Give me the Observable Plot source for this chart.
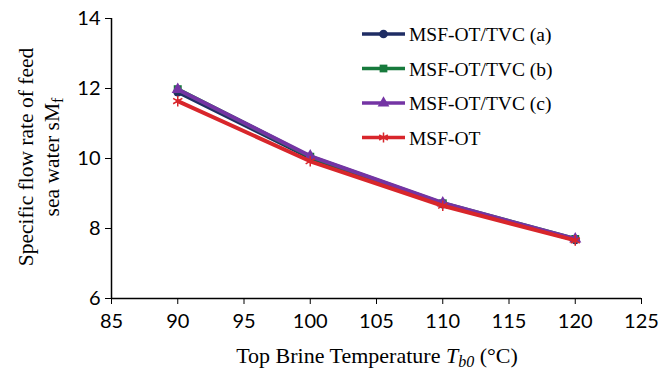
<!DOCTYPE html>
<html><head><meta charset="utf-8">
<script src="https://cdn.jsdelivr.net/npm/d3@7"></script>
<script src="https://cdn.jsdelivr.net/npm/@observablehq/plot@0.6"></script>
<style>body{margin:0;background:#fff}</style>
</head><body><div id="chart"></div>
<script>
const temps = [90, 100, 110, 120];
const seriesNames = ["MSF-OT/TVC (a)", "MSF-OT/TVC (b)", "MSF-OT/TVC (c)", "MSF-OT"];
const valsA = [11.90, 10.02, 8.70, 7.68];
const valsB = [11.98, 10.05, 8.72, 7.70];
const valsC = [11.97, 10.07, 8.73, 7.70];
const valsOT = [11.64, 9.92, 8.65, 7.66];
const colors = ["#1f2d64", "#177a3c", "#7434a4", "#d8262b"];
const symbols = ["circle", "square", "triangle", "asterisk"];
const xTicks = [85, 90, 95, 100, 105, 110, 115, 120, 125];
const yTicks = [6, 8, 10, 12, 14];

const allVals = [valsA, valsB, valsC, valsOT];
const data = [];
seriesNames.forEach((s, i) => temps.forEach((t, j) => data.push({series: s, t, v: allVals[i][j]})));

const W = 665, H = 374;
const ml = 111, mr = 24, mt = 18, mb = 76;
const marks = [];
seriesNames.forEach((s, i) => {
  const d = data.filter(r => r.series === s);
  marks.push(Plot.line(d, {x: "t", y: "v", stroke: colors[i], strokeWidth: 4}));
  marks.push(Plot.dot(d, {x: "t", y: "v", symbol: () => symbols[i], fill: colors[i], stroke: colors[i], strokeWidth: i === 3 ? 1.5 : 0, r: i === 3 ? 5 : 4.5}));
});

const chart = Plot.plot({
  width: W, height: H,
  marginLeft: ml, marginRight: mr, marginTop: mt, marginBottom: mb,
  style: {fontFamily: "Lato, sans-serif", fontSize: "20px", color: "#000", background: "#fff"},
  symbol: {type: "identity"},
  x: {domain: [85, 125], ticks: xTicks, label: null},
  y: {domain: [6, 14], ticks: yTicks, label: null},
  marks: [
    Plot.axisX({ticks: xTicks, tickSize: 6, tickPadding: 9, label: null, fontSize: 20}),
    Plot.axisY({ticks: yTicks, tickSize: 6, tickPadding: 5, label: null, fontSize: 20}),
    Plot.ruleX([85], {stroke: "#000", strokeWidth: 1.5}),
    Plot.ruleY([6], {stroke: "#000", strokeWidth: 1.5}),
    ...marks
  ]
});
document.getElementById("chart").appendChild(chart);

const svg = d3.select(chart);
const serif = "Liberation Serif";
function serifText(sel, size) {
  return sel.attr("font-family", serif).style("font-family", serif).attr("font-size", size).style("font-size", size + "px").attr("fill", "#000");
}
// X title
const xt = serifText(svg.append("text"), 22).attr("x", 377).attr("y", 363).attr("text-anchor", "middle");
xt.append("tspan").text("Top Brine Temperature ");
xt.append("tspan").style("font-style", "italic").text("T");
xt.append("tspan").style("font-style", "italic").style("font-size", "16px").attr("dy", 4).text("b0");
xt.append("tspan").attr("dy", -4).text(" (°C)");
// Y title
serifText(svg.append("text"), 21.5).attr("transform", "translate(33,157) rotate(-90)").attr("text-anchor", "middle")
  .text("Specific flow rate of feed");
const yt2 = serifText(svg.append("text"), 21.5).attr("transform", "translate(59,157) rotate(-90)").attr("text-anchor", "middle");
yt2.append("tspan").text("sea water sM");
yt2.append("tspan").style("font-size", "16px").attr("dy", 4).text("f");
// Legend
const symGen = {circle: d3.symbolCircle, square: d3.symbolSquare, triangle: d3.symbolTriangle, asterisk: d3.symbolAsterisk};
seriesNames.forEach((s, i) => {
  const y = 34 + i * 34.5;
  svg.append("line").attr("x1", 362).attr("x2", 405).attr("y1", y).attr("y2", y).attr("stroke", colors[i]).attr("stroke-width", 3.5);
  svg.append("path").attr("transform", `translate(383.5,${y})`).attr("d", d3.symbol(symGen[symbols[i]], i === 3 ? 70 : 60)())
    .attr("fill", colors[i]).attr("stroke", colors[i]).attr("stroke-width", i === 3 ? 1.5 : 0);
  serifText(svg.append("text"), 19.5).attr("x", 409).attr("y", y + 7).attr("text-anchor", "start").text(s);
});
</script></body></html>
